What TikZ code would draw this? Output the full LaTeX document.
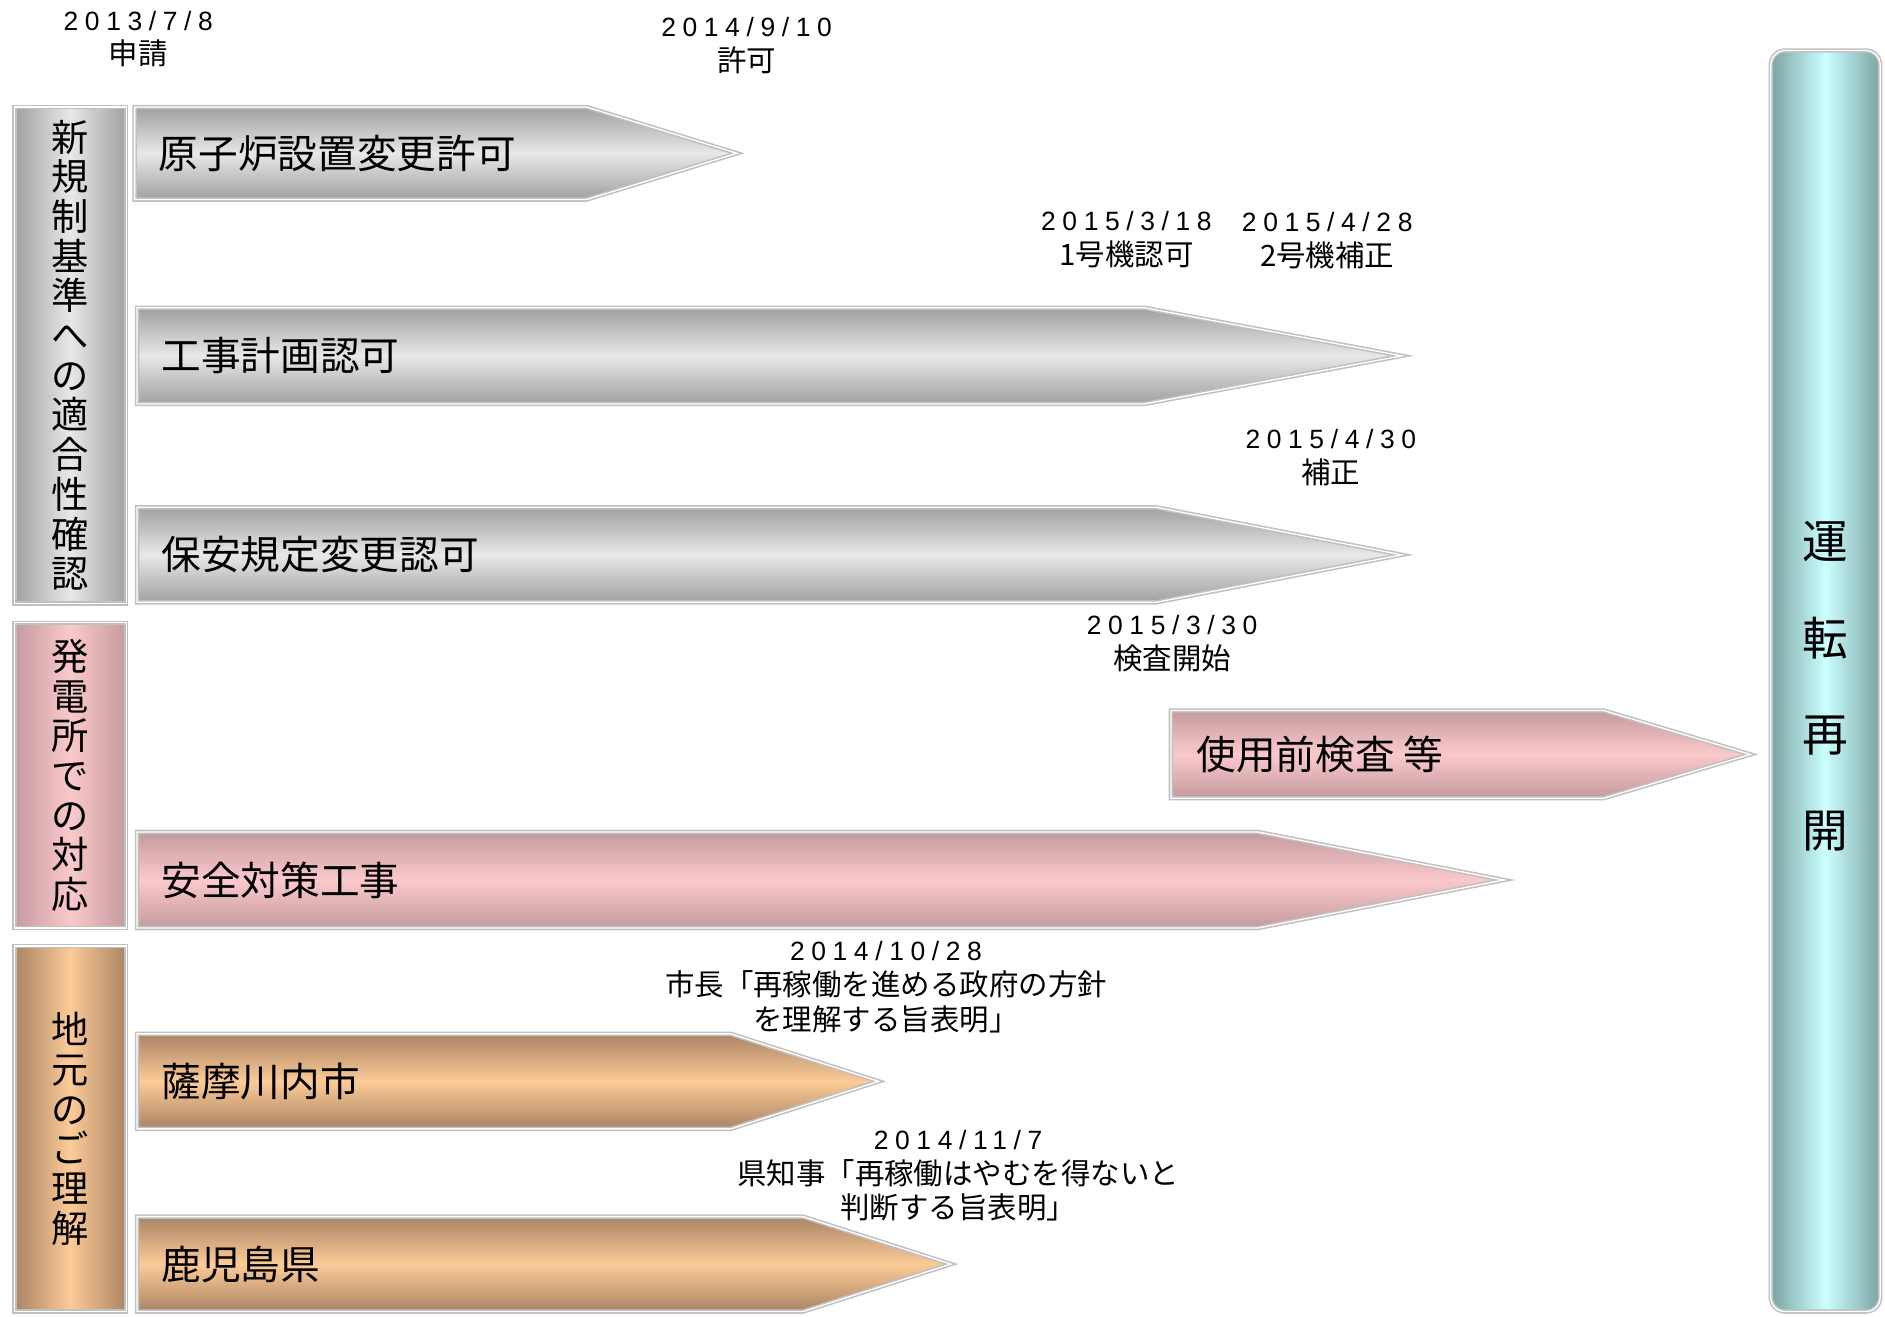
\documentclass[tikz,border=0pt]{standalone}
\usepackage{fontspec}
\setmainfont{Noto Sans CJK JP}
\newfontfamily\datefont[LetterSpace=25]{Liberation Sans}
\newcommand{\dt}[1]{{\datefont\fontsize{22}{29}\selectfont #1}}
\definecolor{gEdge}{HTML}{A0A0A0}
\definecolor{gMid}{HTML}{E8E8E8}
\definecolor{pEdge}{HTML}{C49A9E}
\definecolor{pMid}{HTML}{FBC9CB}
\definecolor{tEdge}{HTML}{AA8464}
\definecolor{tMid}{HTML}{FCCB97}
\definecolor{cEdge}{HTML}{7BA3A3}
\definecolor{cMid}{HTML}{CCFFFF}
\definecolor{bord}{HTML}{C0C0C0}
\begin{document}
\begin{tikzpicture}[x=1pt,y=-1pt,
  frame/.style={draw=bord, double=white, double distance=1.1pt, line width=1.3pt},
  garrow/.style={frame, top color=gEdge, bottom color=gEdge, middle color=gMid},
  parrow/.style={frame, top color=pEdge, bottom color=pEdge, middle color=pMid},
  tarrow/.style={frame, top color=tEdge, bottom color=tEdge, middle color=tMid},
  gcat/.style={frame, left color=gEdge, right color=gEdge, middle color=gMid},
  pcat/.style={frame, left color=pEdge, right color=pEdge, middle color=pMid},
  tcat/.style={frame, left color=tEdge, right color=tEdge, middle color=tMid},
  ccat/.style={frame, rounded corners=12pt, left color=cEdge, right color=cEdge, middle color=cMid},
  biglabel/.style={anchor=west, inner sep=0pt, font=\fontsize{33}{33}\selectfont},
  catlabel/.style={align=center, inner sep=0pt, font=\fontsize{31}{33}\selectfont},
  datelabel/.style={align=center, inner sep=0pt, font=\fontsize{24.5}{29}\selectfont}]
\useasboundingbox (0,0) rectangle (1568,1095);

% category boxes
\path[gcat] (12,89) rectangle (105,502);
\node[catlabel] (c1) at (58,295.5) {新\\規\\制\\基\\準\\へ\\の\\適\\合\\性\\確\\認};
\path[pcat] (12,518) rectangle (105,772);
\node[catlabel] (c2) at (58,645) {発\\電\\所\\で\\の\\対\\応};
\path[tcat] (12,787) rectangle (105,1091);
\node[catlabel] (c3) at (58,939) {地\\元\\の\\ご\\理\\解};

% right box
\path[ccat] (1473,42) rectangle (1564,1091);
\node[align=center, inner sep=0pt, font=\fontsize{38}{80}\selectfont] (r) at (1518,571) {運\\転\\再\\開};

% arrows
\path[garrow] (112,89) -- (488,89) -- (613,127.5) -- (488,166) -- (112,166) -- cycle;
\node[biglabel] (a1) at (132,127.5) {原子炉設置変更許可};
\path[garrow] (114,256) -- (952,256) -- (1166,296) -- (952,336) -- (114,336) -- cycle;
\node[biglabel] (a2) at (134,296) {工事計画認可};
\path[garrow] (114,422) -- (962,422) -- (1166,461.5) -- (962,501) -- (114,501) -- cycle;
\node[biglabel] (a3) at (134,461.5) {保安規定変更認可};
\path[parrow] (974,591) -- (1334,591) -- (1456,627.5) -- (1334,664) -- (974,664) -- cycle;
\node[biglabel] (a4) at (995,627.5) {使用前検査 等};
\path[parrow] (114,692) -- (1046,692) -- (1251,732) -- (1046,772) -- (114,772) -- cycle;
\node[biglabel] (a5) at (134,732) {安全対策工事};
\path[tarrow] (114,860) -- (608,860) -- (731,899.5) -- (608,939) -- (114,939) -- cycle;
\node[biglabel] (a6) at (134,899.5) {薩摩川内市};
\path[tarrow] (114,1012) -- (668,1012) -- (791,1051.5) -- (668,1091) -- (114,1091) -- cycle;
\node[biglabel] (a7) at (134,1051.5) {鹿児島県};

% date labels
\node[datelabel] (d1) at (115,32.5) {\dt{2013/7/8}\\申請};
\node[datelabel] (d2) at (621,38) {\dt{2014/9/10}\\許可};
\node[datelabel] (d3) at (937,199.5) {\dt{2015/3/18}\\1号機認可};
\node[datelabel] (d4) at (1104,200) {\dt{2015/4/28}\\2号機補正};
\node[datelabel] (d5) at (1107,380.5) {\dt{2015/4/30}\\補正};
\node[datelabel] (d6) at (975,535.5) {\dt{2015/3/30}\\検査開始};
\node[datelabel] (d7) at (737,821) {\dt{2014/10/28}\\市長「再稼働を進める政府の方針\\を理解する旨表明」};
\node[datelabel] (d8) at (797,978) {\dt{2014/11/7}\\県知事「再稼働はやむを得ないと\\判断する旨表明」};
\end{tikzpicture}
\end{document}
